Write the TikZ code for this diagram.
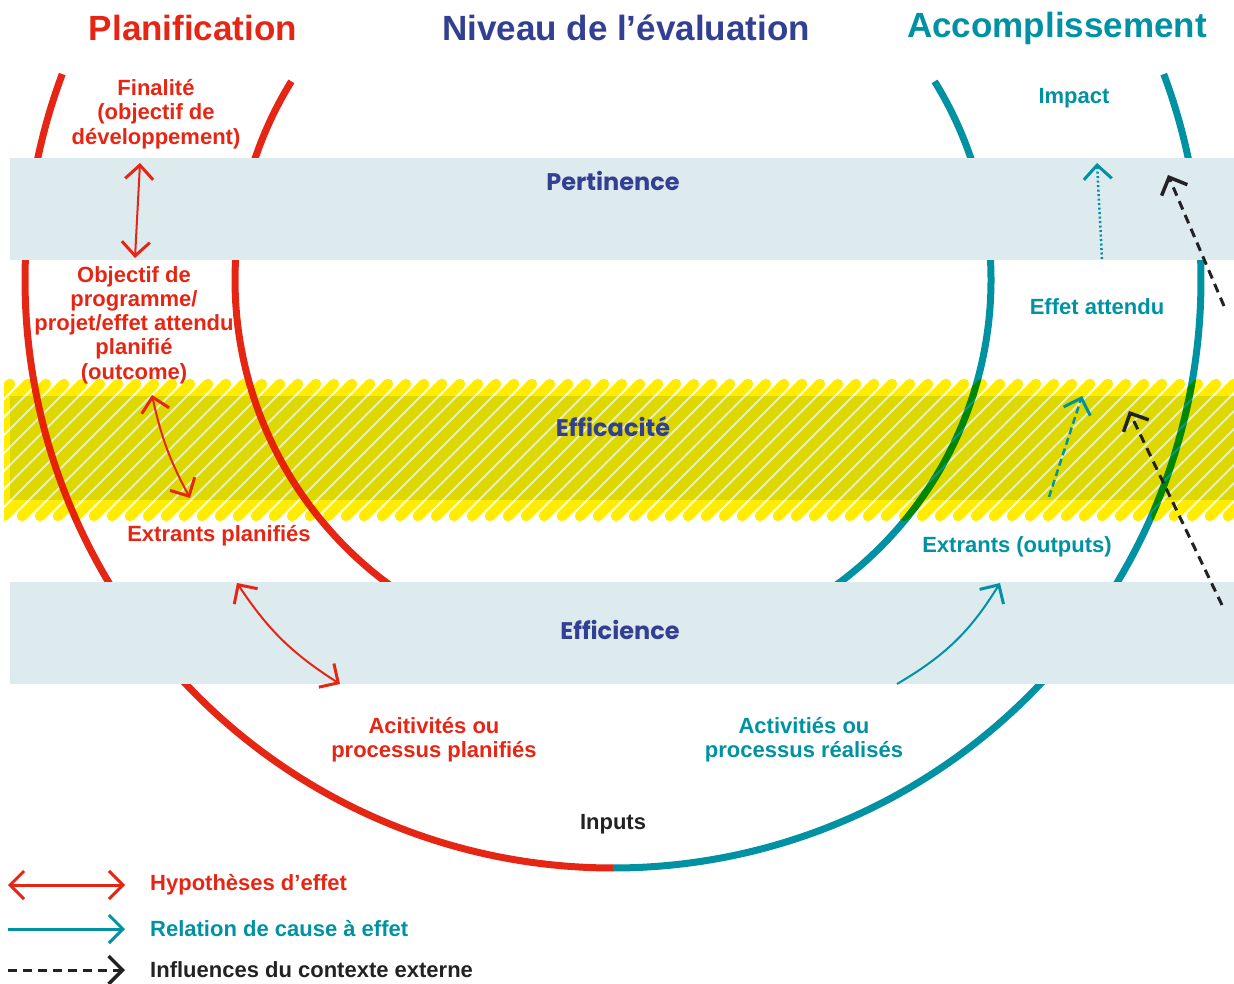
\documentclass[tikz,border=0pt]{standalone}
\usepackage{fontspec}
\setmainfont{Liberation Sans}
\newfontfamily\bandfont{Poppins}
\usepackage{tikz}
\usetikzlibrary{arrows.meta}

\definecolor{planred}{HTML}{E62614}
\definecolor{accteal}{HTML}{0092A3}
\definecolor{evalnavy}{HTML}{323F93}
\definecolor{bandgrey}{HTML}{DDEAEE}
\definecolor{hatchyellow}{HTML}{FFEC00}
\definecolor{inkdark}{HTML}{222222}

\begin{document}
\begin{tikzpicture}[x=1pt, y=1pt,
    title/.style={font=\fontsize{35}{40}\selectfont\bfseries, inner sep=0pt},
    lbl/.style={font=\fontsize{22}{24.3}\selectfont\bfseries, align=center, inner sep=0pt},
    bandlbl/.style={font=\bandfont\fontsize{24}{26}\selectfont\bfseries, text=evalnavy, inner sep=0pt},
    band/.style={fill=bandgrey},
    ring/.style={line width=7pt},
    hyp/.style={planred, line width=2pt, {Straight Barb[length=14pt, width=28pt, line width=3pt]}-{Straight Barb[length=14pt, width=28pt, line width=3pt]}},
    cause/.style={accteal, line width=2pt, -{Straight Barb[length=14pt, width=28pt, line width=3pt]}},
    ext/.style={inkdark, line width=3pt, dash pattern=on 9pt off 6pt, -{Straight Barb[length=14pt, width=28pt, line width=3.5pt]}},
]
    \useasboundingbox (0,0) rectangle (1234,983);

    \fill[band] (10,483) rectangle (1234,587);

    \coordinate (c) at (613,703);
    \draw[ring, planred] (c) ++(159.5:588) arc[start angle=159.5, end angle=270, radius=588];
    \draw[ring, accteal] (c) ++(270:588) arc[start angle=270, end angle=380.5, radius=588];
    \draw[ring, planred] (c) ++(148.3:378) arc[start angle=148.3, end angle=240, radius=378];
    \draw[ring, accteal] (c) ++(300:378) arc[start angle=300, end angle=391.7, radius=378];

    \begin{scope}[blend mode=multiply]
        \clip (4,440) rectangle (1234,630);
        \foreach \hx in {-140,-122,...,1240}
            \draw[hatchyellow, line width=10.5pt, line cap=round] (\hx,467) -- ++(132,132);
    \end{scope}

    \fill[band] (10,723) rectangle (1234,825);
    \fill[band] (10,299) rectangle (1234,401);

    \node[title, text=planred] (tplan) at (193,955) {Planification};
    \node[title, text=evalnavy] (tniveau) at (626,955) {Niveau de l’évaluation};
    \node[title, text=accteal] (taccomp) at (1057,955) {Accomplissement};

    \node[bandlbl] (pertinence) at (613,802) {Pertinence};
    \node[bandlbl] (efficacite) at (613,556) {Efficacité};
    \node[bandlbl] (efficience) at (620,353) {Efficience};

    \node[lbl, text=planred] (finalite) at (156,869) {Finalité\\(objectif de\\développement)};
    \node[lbl, text=planred] (objectif) at (134,658) {Objectif de\\programme/\\projet/effet attendu\\planifié\\(outcome)};
    \node[lbl, text=planred] (extrplan) at (219,447) {Extrants planifiés};
    \node[lbl, text=planred] (actplan) at (434,243) {Acitivités ou\\processus planifiés};
    \node[lbl, text=inkdark] (inputs) at (613,159) {Inputs};
    \node[lbl, text=accteal] (actreal) at (804,243) {Activitiés ou\\processus réalisés};
    \node[lbl, text=accteal] (extrout) at (1017,436) {Extrants (outputs)};
    \node[lbl, text=accteal] (effet) at (1097,676) {Effet attendu};
    \node[lbl, text=accteal] (impact) at (1074,885) {Impact};

    \coordinate (fin-tip) at (140,820);
    \coordinate (obj-tip) at (135,725);
    \coordinate (obj-low) at (152,588);
    \coordinate (ext-tip) at (190,485);
    \coordinate (ext-low) at (237,400);
    \coordinate (act-tip) at (340,299);
    \draw[hyp] (fin-tip) -- (obj-tip);
    \draw[hyp] (obj-low) to[bend right=8] (ext-tip);
    \draw[hyp] (ext-low) to[bend right=12] (act-tip);

    \coordinate (real-top) at (897,299);
    \coordinate (out-tip) at (1000,400);
    \coordinate (out-top) at (1049,486);
    \coordinate (eff-tip) at (1082,587);
    \coordinate (eff-top) at (1102,724);
    \coordinate (imp-tip) at (1097,820);
    \draw[cause] (real-top) to[bend right=14] (out-tip);
    \draw[cause, line width=2.5pt, dash pattern=on 7pt off 4pt] (out-top) -- (eff-tip);
    \draw[cause, line width=2.5pt, dash pattern=on 2pt off 2.5pt] (eff-top) -- (imp-tip);

    \coordinate (ctx-low) at (1222,378);
    \coordinate (ctx-eff) at (1129,572);
    \coordinate (ctx-high) at (1224,677);
    \coordinate (ctx-imp) at (1168,808);
    \draw[ext] (ctx-low) -- (ctx-eff);
    \draw[ext] (ctx-high) -- (ctx-imp);

    \coordinate (hyp-a) at (8,98);
    \coordinate (hyp-b) at (125,98);
    \coordinate (cause-a) at (8,54);
    \coordinate (cause-b) at (125,54);
    \coordinate (ext-a) at (8,13);
    \coordinate (ext-b) at (125,13);
    \draw[hyp, line width=3pt] (hyp-a) -- (hyp-b);
    \draw[cause, line width=3pt] (cause-a) -- (cause-b);
    \draw[ext] (ext-a) -- (ext-b);
    \node[lbl, text=planred, anchor=west] (leghyp) at (150,98) {Hypothèses d’effet};
    \node[lbl, text=accteal, anchor=west] (legcause) at (150,54) {Relation de cause à effet};
    \node[lbl, text=inkdark, anchor=west] (legext) at (150,13) {Influences du contexte externe};
\end{tikzpicture}
\end{document}
